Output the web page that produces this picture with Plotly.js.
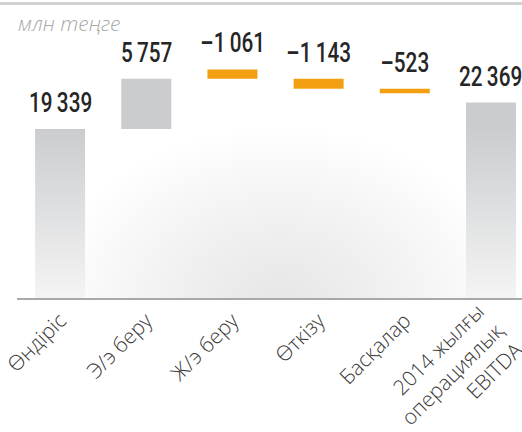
<!DOCTYPE html>
<html>
<head>
<meta charset="utf-8">
<script src="https://cdn.plot.ly/plotly-3.0.1.min.js"></script>
<style>
  html, body { margin: 0; padding: 0; background: #ffffff; }
  #wrap { position: relative; width: 522px; height: 432px; overflow: hidden; }
  #glow { position: absolute; left: 0; top: 0; width: 522px; height: 298px;
          background: radial-gradient(ellipse 235px 175px at 280px 302px, #e6e6e6 0%, #efefef 40%, #f8f8f8 75%, #ffffff 100%); }
  #chart { position: absolute; left: 0; top: 0; width: 522px; height: 432px; }
</style>
</head>
<body>
<div id="wrap"><div id="glow"></div><div id="chart"></div></div>
<script>
// ---- data ----
const categories = ['Өндіріс', 'Э/э беру', 'Ж/э беру', 'Өткізу', 'Басқалар', '2014 жылғы<br>операциялық<br>EBITDA'];
const values = [19339, 5757, -1061, -1143, -523, 22369];
// bottom of each bar as drawn in the reference
const barBase = [0, 19339, 25096, 23953, 23430, 0];
const unitLabel = 'млн теңге';

// ---- helpers ----
function fmt(v) {
  const s = String(Math.abs(v)).replace(/\B(?=(\d{3})+(?!\d))/g, '\u2009');
  return (v < 0 ? '\u2013' : '') + s;
}
const lengths = values.map(v => Math.abs(v));
const colors = values.map(v => v < 0 ? '#f39f12' : '#cbccce');
const tops = barBase.map((b, i) => b + lengths[i]);

const trace = {
  type: 'bar',
  x: categories.map((c, i) => i),
  y: lengths,
  base: barBase,
  width: 0.58,
  marker: { color: colors, line: { width: 0 } },
  hoverinfo: 'skip'
};

const annotations = values.map((v, i) => ({
  x: i, y: tops[i], xref: 'x', yref: 'y',
  text: fmt(v), showarrow: false, yanchor: 'bottom', xanchor: 'center', yshift: 8,
  font: { family: 'Roboto, "DejaVu Sans Condensed", sans-serif', size: 28, weight: 500, color: '#262626' }
}));
annotations.push({
  xref: 'paper', yref: 'paper', x: -0.002, y: 1.065, xanchor: 'left', yanchor: 'middle',
  text: unitLabel, showarrow: false,
  font: { family: '"Open Sans", sans-serif', size: 21, color: '#a8a8a8', style: 'italic', weight: 300 }
});

const layout = {
  width: 522, height: 432,
  margin: { l: 17, r: 0, t: 40, b: 134, pad: 0 },
  paper_bgcolor: 'rgba(0,0,0,0)',
  plot_bgcolor: 'rgba(0,0,0,0)',
  showlegend: false,
  xaxis: {
    range: [-0.5, 5.36],
    tickmode: 'array', tickvals: categories.map((c, i) => i), ticktext: categories,
    tickangle: -45, ticks: '', showgrid: false, zeroline: false,
    ticklabeloverflow: 'allow', automargin: false,
    showline: true, linecolor: '#a9a9a9', linewidth: 2,
    tickfont: { family: '"Open Sans", sans-serif', size: 21, weight: 300, color: '#3a3a3a' }
  },
  yaxis: { range: [0, 29520], visible: false, showgrid: false, zeroline: false },
  shapes: [
    { type: 'line', xref: 'paper', yref: 'paper', x0: -0.05, x1: 1.05, y0: 1.1415, y1: 1.1415,
      line: { color: '#d2d2d2', width: 3 } }
  ],
  annotations: annotations
};

Plotly.newPlot('chart', [trace], layout, { staticPlot: true, displayModeBar: false }).then(gd => {
  const svg = gd.querySelector('.main-svg');
  const ns = 'http://www.w3.org/2000/svg';
  let defs = svg.querySelector('defs');
  if (!defs) { defs = document.createElementNS(ns, 'defs'); svg.insertBefore(defs, svg.firstChild); }
  const len = gd._fullLayout.yaxis._length;
  const g = document.createElementNS(ns, 'linearGradient');
  g.setAttribute('id', 'gbar');
  g.setAttribute('gradientUnits', 'userSpaceOnUse');
  g.setAttribute('x1', 0); g.setAttribute('x2', 0);
  g.setAttribute('y1', len * 0.34); g.setAttribute('y2', len);
  [['0', '#cbccce'], ['0.5', '#dfe0e1'], ['1', '#f4f4f4']].forEach(([o, c]) => {
    const s = document.createElementNS(ns, 'stop');
    s.setAttribute('offset', o); s.setAttribute('stop-color', c);
    g.appendChild(s);
  });
  defs.appendChild(g);
  const paths = gd.querySelectorAll('.bars .point path');
  paths.forEach((p, i) => { if (values[i] >= 0) p.style.fill = 'url(#gbar)'; });
  // condense the value labels horizontally (reference uses a condensed face)
  const annTexts = gd.querySelectorAll('.annotation-text-g text.annotation-text');
  annTexts.forEach((t, i) => {
    if (i >= values.length) return;
    const bb = t.getBBox();
    const cx = bb.x + bb.width / 2;
    t.setAttribute('transform', `translate(${cx},0) scale(0.74,1) translate(${-cx},0)`);
  });
  // the multi-line category label sits a little up-left in the reference
  const ticks = gd.querySelectorAll('.xtick text');
  if (ticks.length) {
    const last = ticks[ticks.length - 1];
    const tr = last.getAttribute('transform') || '';
    last.setAttribute('transform', 'translate(-13,-9) ' + tr);
  }
});
</script>
</body>
</html>
